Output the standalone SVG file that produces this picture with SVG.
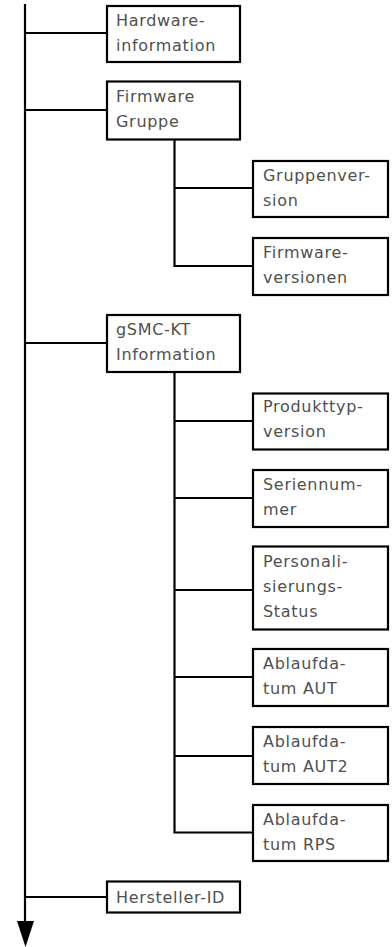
<svg xmlns="http://www.w3.org/2000/svg" width="392" height="947" viewBox="0 0 392 947">
<style>
.box{fill:#fff;stroke:#000;stroke-width:2.2}
.ln{stroke:#000;stroke-width:2.2;fill:none}
text{font-family:"DejaVu Sans","Liberation Sans",sans-serif;font-size:16px;fill:#505050;letter-spacing:0.7px}
</style>
<g id="connectors">
<line class="ln" x1="25" y1="4" x2="25" y2="923"/>
<polygon points="17,921 34,921 25.5,947" fill="#000"/>
<line class="ln" x1="25" y1="33" x2="106" y2="33"/>
<line class="ln" x1="25" y1="110" x2="106" y2="110"/>
<line class="ln" x1="25" y1="343" x2="106" y2="343"/>
<line class="ln" x1="25" y1="897" x2="106" y2="897"/>
<polyline class="ln" points="174.5,140 174.5,266 252,266"/>
<line class="ln" x1="174.5" y1="188" x2="252" y2="188"/>
<polyline class="ln" points="174.5,373 174.5,832.5 252,832.5"/>
<line class="ln" x1="174.5" y1="421" x2="252" y2="421"/>
<line class="ln" x1="174.5" y1="498" x2="252" y2="498"/>
<line class="ln" x1="174.5" y1="590" x2="252" y2="590"/>
<line class="ln" x1="174.5" y1="677" x2="252" y2="677"/>
<line class="ln" x1="174.5" y1="756" x2="252" y2="756"/>
</g>
<g id="hardware"><rect class="box" x="107" y="6" width="133" height="56"/><text x="116" y="26">Hardware-</text><text x="116" y="51">information</text></g>
<g id="firmware"><rect class="box" x="107" y="81.5" width="133" height="58"/><text x="116" y="102">Firmware</text><text x="116" y="127">Gruppe</text></g>
<g id="gruppenversion"><rect class="box" x="253" y="161" width="135" height="56"/><text x="263" y="181">Gruppenver-</text><text x="263" y="206">sion</text></g>
<g id="firmwareversionen"><rect class="box" x="253" y="238" width="135" height="57"/><text x="263" y="258">Firmware-</text><text x="263" y="283">versionen</text></g>
<g id="gsmc"><rect class="box" x="107" y="315" width="133" height="57"/><text x="116" y="335">gSMC-KT</text><text x="116" y="360">Information</text></g>
<g id="produkttyp"><rect class="box" x="253" y="393.5" width="135" height="56"/><text x="263" y="412">Produkttyp-</text><text x="263" y="437">version</text></g>
<g id="seriennummer"><rect class="box" x="253" y="470" width="135" height="57"/><text x="263" y="490">Seriennum-</text><text x="263" y="515">mer</text></g>
<g id="personalisierung"><rect class="box" x="253" y="546.5" width="135" height="83"/><text x="263" y="567">Personali-</text><text x="263" y="592">sierungs-</text><text x="263" y="617">Status</text></g>
<g id="aut"><rect class="box" x="253" y="649" width="135" height="57"/><text x="263" y="669">Ablaufda-</text><text x="263" y="694">tum AUT</text></g>
<g id="aut2"><rect class="box" x="253" y="727" width="135" height="57"/><text x="263" y="747">Ablaufda-</text><text x="263" y="772">tum AUT2</text></g>
<g id="rps"><rect class="box" x="253" y="805" width="135" height="56"/><text x="263" y="825">Ablaufda-</text><text x="263" y="850">tum RPS</text></g>
<g id="hersteller"><rect class="box" x="107" y="881.5" width="133" height="31"/><text x="116" y="903">Hersteller-ID</text></g>
</svg>
